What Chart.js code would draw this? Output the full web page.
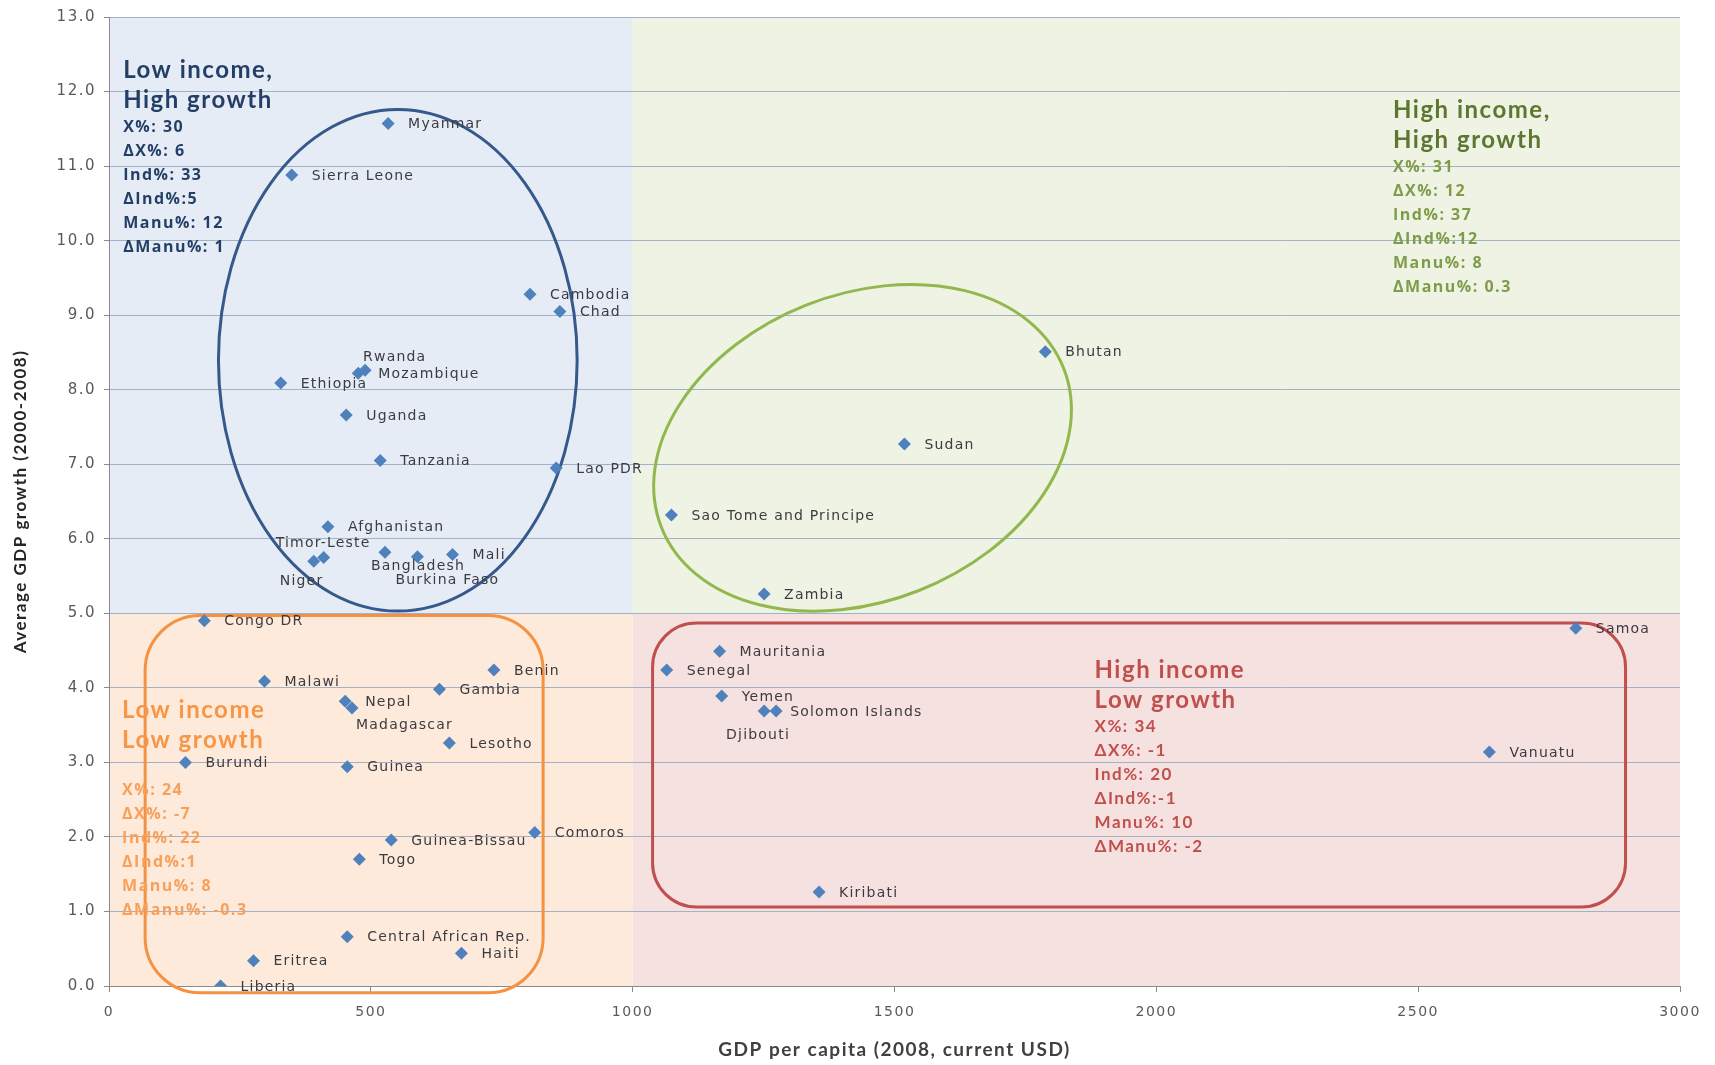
<!DOCTYPE html>
<html>
<head>
<meta charset="utf-8">
<title>GDP per capita vs GDP growth</title>
<script src="https://cdn.jsdelivr.net/npm/chart.js@4.4.1/dist/chart.umd.min.js"></script>
<style>
  html, body { margin: 0; padding: 0; background: #fff; }
  #chart { display: block; }
</style>
</head>
<body>
<canvas id="chart" width="1715" height="1065"></canvas>
<script>
// data
const countries = [
  'Myanmar', 'Sierra Leone', 'Cambodia', 'Chad', 'Rwanda', 'Mozambique', 'Ethiopia',
  'Uganda', 'Tanzania', 'Lao PDR', 'Afghanistan', 'Timor-Leste', 'Niger', 'Bangladesh',
  'Burkina Faso', 'Mali', 'Sao Tome and Principe', 'Zambia', 'Sudan', 'Bhutan',
  'Congo DR', 'Malawi', 'Nepal', 'Madagascar', 'Gambia', 'Benin', 'Lesotho', 'Burundi',
  'Guinea', 'Guinea-Bissau', 'Comoros', 'Togo', 'Central African Rep.', 'Haiti', 'Eritrea',
  'Liberia', 'Mauritania', 'Senegal', 'Yemen', 'Solomon Islands', 'Djibouti', 'Kiribati',
  'Vanuatu', 'Samoa'
];
const gdpPerCapita = [
  533, 349, 804, 861, 489, 476, 328,
  453, 518, 854, 418, 410, 391, 527,
  589, 656, 1074, 1251, 1519, 1788,
  182, 297, 451, 464, 631, 735, 650, 146,
  455, 539, 813, 478, 455, 673, 276,
  213, 1166, 1065, 1170, 1274, 1251, 1356,
  2636, 2801
];
const gdpGrowth = [
  11.57, 10.88, 9.28, 9.05, 8.26, 8.22, 8.09,
  7.66, 7.05, 6.95, 6.16, 5.75, 5.70, 5.82,
  5.76, 5.79, 6.32, 5.26, 7.27, 8.51,
  4.90, 4.09, 3.82, 3.73, 3.98, 4.24, 3.26, 3.00,
  2.94, 1.96, 2.06, 1.70, 0.66, 0.44, 0.34,
  0.00, 4.49, 4.24, 3.89, 3.69, 3.69, 1.26,
  3.14, 4.80
];

const xTicks = [0, 500, 1000, 1500, 2000, 2500, 3000];
const yMax = 13;

// quadrant boxes: income split at 1000 USD, growth split at 5%
const incomeSplit = 1000;
const growthSplit = 5;

const lowHighText = ['X%: 30', '\u0394X%: 6', 'Ind%: 33', '\u0394Ind%:5', 'Manu%: 12', '\u0394Manu%: 1'];
const highHighText = ['X%: 31', '\u0394X%: 12', 'Ind%: 37', '\u0394Ind%:12', 'Manu%: 8', '\u0394Manu%: 0.3'];
const highLowText = ['X%: 34', '\u0394X%: -1', 'Ind%: 20', '\u0394Ind%:-1', 'Manu%: 10', '\u0394Manu%: -2'];
const lowLowText = ['X%: 24', '\u0394X%: -7', 'Ind%: 22', '\u0394Ind%:1', 'Manu%: 8', '\u0394Manu%: -0.3'];

// label placement (px from the marker), default is to the right
const labelOffsets = {
  'Rwanda': [-2, -13],
  'Timor-Leste': [-48, -14],
  'Niger': [-34, 20],
  'Bangladesh': [-14, 14],
  'Burkina Faso': [-22, 24],
  'Madagascar': [4, 17],
  'Solomon Islands': [14, 1],
  'Djibouti': [-38, 24]
};

const points = countries.map((c, i) => ({ x: gdpPerCapita[i], y: gdpGrowth[i] }));

function drawBlock(ctx, x, y, title, lines, opts) {
  ctx.textAlign = 'left';
  ctx.textBaseline = 'middle';
  ctx.letterSpacing = '1.5px';
  ctx.fillStyle = opts.titleColor;
  ctx.font = opts.titleFont;
  title.forEach((t, i) => ctx.fillText(t, x, y + i * 30));
  ctx.fillStyle = opts.color;
  ctx.font = opts.font;
  const start = y + (title.length - 1) * 30 + opts.gap;
  lines.forEach((t, i) => ctx.fillText(t, x, start + i * 24));
  ctx.letterSpacing = '0px';
}

const quadrantPlugin = {
  id: 'quadrants',
  beforeDraw(chart) {
    const { ctx, scales: { x, y } } = chart;
    const x0 = x.getPixelForValue(0), x1 = x.getPixelForValue(incomeSplit), x2 = x.getPixelForValue(3000);
    const y0 = y.getPixelForValue(0), y1 = y.getPixelForValue(growthSplit), y2 = y.getPixelForValue(yMax);
    ctx.save();
    ctx.fillStyle = '#e6ecf5';
    ctx.fillRect(x0, y2, x1 - x0, y1 - y2);
    ctx.fillStyle = '#eef3e4';
    ctx.fillRect(x1, y2, x2 - x1, y1 - y2);
    ctx.fillStyle = '#fdeadb';
    ctx.fillRect(x0, y1, x1 - x0, y0 - y1);
    ctx.fillStyle = '#f6e1e1';
    ctx.fillRect(x1, y1, x2 - x1, y0 - y1);
    ctx.restore();
    // the scanned axis text is spaced out a little
    ctx.letterSpacing = '1.5px';
  },
  beforeDatasetsDraw(chart) {
    const { ctx, scales: { x, y } } = chart;
    ctx.letterSpacing = '0px';
    const px = v => x.getPixelForValue(v);
    const py = v => y.getPixelForValue(v);
    const unit = px(1) - px(0);
    ctx.save();
    ctx.lineWidth = 3;

    // blue ellipse round the low income, high growth group
    ctx.strokeStyle = '#34598a';
    ctx.beginPath();
    ctx.ellipse((px(209) + px(894)) / 2, (py(11.76) + py(5.03)) / 2,
      (px(894) - px(209)) / 2, (py(5.03) - py(11.76)) / 2, 0, 0, Math.PI * 2);
    ctx.stroke();

    // green tilted ellipse
    ctx.strokeStyle = '#92b74c';
    ctx.beginPath();
    ctx.ellipse(px(1439), py(7.22), 413 * unit, 293 * unit, -21.6 * Math.PI / 180, 0, Math.PI * 2);
    ctx.stroke();

    // orange rounded box
    ctx.strokeStyle = '#f39243';
    ctx.beginPath();
    ctx.roundRect(px(69), py(4.97), px(829) - px(69), py(-0.09) - py(4.97), 55);
    ctx.stroke();

    // red rounded box
    ctx.strokeStyle = '#c0504d';
    ctx.beginPath();
    ctx.roundRect(px(1038), py(4.87), px(2896) - px(1038), py(1.06) - py(4.87), 44);
    ctx.stroke();
    ctx.restore();
  },
  afterDatasetsDraw(chart) {
    const { ctx, scales: { x, y } } = chart;
    ctx.save();

    // country labels
    ctx.font = '14px "DejaVu Sans"';
    ctx.letterSpacing = '1.2px';
    ctx.fillStyle = '#3d3a40';
    ctx.textAlign = 'left';
    ctx.textBaseline = 'middle';
    countries.forEach((c, i) => {
      const off = labelOffsets[c] || [20, 1];
      ctx.fillText(c, x.getPixelForValue(gdpPerCapita[i]) + off[0], y.getPixelForValue(gdpGrowth[i]) + off[1]);
    });
    ctx.letterSpacing = '0px';

    // quadrant notes
    drawBlock(ctx, x.getPixelForValue(27), y.getPixelForValue(12.28), ['Low income,', 'High growth'], lowHighText, {
      titleColor: '#243f66', color: '#243f66', titleFont: 'bold 24px Lato', font: 'bold 16px "Open Sans"', gap: 27
    });
    drawBlock(ctx, x.getPixelForValue(2452), y.getPixelForValue(11.75), ['High income,', 'High growth'], highHighText, {
      titleColor: '#5d7630', color: '#7f9c4a', titleFont: 'bold 24px Lato', font: 'bold 16px "Open Sans"', gap: 27
    });
    drawBlock(ctx, x.getPixelForValue(1882), y.getPixelForValue(4.24), ['High income', 'Low growth'], highLowText, {
      titleColor: '#c0504d', color: '#c0504d', titleFont: 'bold 24px Lato', font: 'bold 17px Lato', gap: 27
    });
    drawBlock(ctx, x.getPixelForValue(25), y.getPixelForValue(3.70), ['Low income', 'Low growth'], lowLowText, {
      titleColor: '#f79646', color: '#f8a05a', titleFont: 'bold 24px Lato', font: 'bold 16px "Open Sans"', gap: 50
    });
    ctx.restore();
  }
};

new Chart(document.getElementById('chart').getContext('2d'), {
  type: 'scatter',
  data: {
    datasets: [{
      label: 'Countries',
      data: points,
      pointStyle: 'rectRot',
      pointRadius: 6.5,
      pointHoverRadius: 6.5,
      backgroundColor: '#4f81bd',
      borderColor: '#4f81bd',
      borderWidth: 0
    }]
  },
  options: {
    responsive: false,
    animation: false,
    layout: { padding: { top: 13, right: 35, left: 0, bottom: 0 } },
    plugins: {
      legend: { display: false },
      tooltip: { enabled: false }
    },
    scales: {
      x: {
        type: 'linear',
        min: 0,
        max: 3000,
        afterBuildTicks: s => { s.ticks = xTicks.map(v => ({ value: v })); },
        ticks: {
          color: '#595959',
          font: { family: 'DejaVu Sans', size: 14 },
          padding: 12,
          maxRotation: 0,
          callback: v => String(v)
        },
        grid: { drawOnChartArea: false, tickLength: 6, color: '#8a8a8a' },
        border: { color: '#8a8a8a' },
        title: {
          display: true,
          text: 'GDP per capita (2008, current USD)',
          color: '#404040',
          font: { family: 'Lato', size: 19, weight: 'bold' },
          padding: { top: 0, bottom: 4 }
        },
        afterFit: s => { s.height = 79; }
      },
      y: {
        min: 0,
        max: yMax,
        ticks: {
          stepSize: 1,
          color: '#595959',
          font: { family: 'DejaVu Sans', size: 15 },
          padding: 8,
          callback: v => v.toFixed(1)
        },
        grid: { color: '#a3b1c6', tickColor: '#8a8a8a', tickLength: 5 },
        border: { color: '#8a8a8a' },
        title: {
          display: true,
          text: 'Average GDP growth (2000-2008)',
          color: '#262626',
          font: { family: 'Lato', size: 17, weight: 'bold' },
          padding: { top: 10, bottom: 2 }
        },
        afterFit: s => { s.width = 109; }
      }
    }
  },
  plugins: [quadrantPlugin]
});
</script>
</body>
</html>
